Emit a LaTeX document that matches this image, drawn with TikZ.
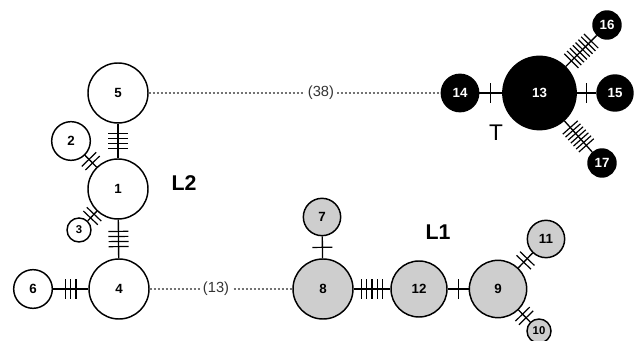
\documentclass[tikz,border=0pt]{standalone}
\usepackage{fontspec}
\setmainfont{Liberation Sans}
\usetikzlibrary{decorations.markings}
\definecolor{hapgray}{RGB}{206,206,206}
\tikzset{
  hap/.style={circle, draw, line width=1.1pt, inner sep=0pt, font=\bfseries\fontsize{10}{12}\selectfont},
  hapbig/.style={hap, minimum size=45pt},
  hapmid/.style={hap, minimum size=29pt},
  hapsmall/.style={hap, minimum size=18pt, font=\bfseries\fontsize{8.5}{10}\selectfont},
  lone/.style={fill=hapgray},
  tgroup/.style={fill=black, text=white},
  hapline/.style={line width=1pt},
  farline/.style={dash pattern=on 1.6pt off 1.4pt, black!55, line width=0.8pt},
  farlabel/.style={fill=white, text=black!80, inner sep=2pt, font=\fontsize{11}{13}\selectfont},
  grouplabel/.style={font=\bfseries\fontsize{16}{18}\selectfont},
  mut/.style 2 args={postaction={decorate, decoration={markings,
      mark=at position 0.5 with {\foreach \i in {1,...,#1}
        \draw[line width=0.9pt] ({(\i-(#1+1)/2)*#2},-7.5pt) -- ({(\i-(#1+1)/2)*#2},7.5pt);}}}},
}
\begin{document}
\begin{tikzpicture}[x=0.75pt, y=-0.75pt]
        \useasboundingbox (0,0) rectangle (642,341);

        % Haplogroup L2
        \node[hapbig] (n5) at (118,93) {5};
        \node[hapbig] (n1) at (118,189) {1};
        \node[hapbig] (n4) at (119,289) {4};
        \node[hapmid] (n2) at (71,141) {2};
        \node[hapsmall] (n3) at (79,230) {3};
        \node[hapmid] (n6) at (33,289) {6};
        \node[grouplabel] (l2) at (184,183) {L2};

        % Haplogroup L1
        \node[hapbig, lone] (n8) at (323,289) {8};
        \node[hapmid, lone, minimum size=28pt] (n7) at (322,217) {7};
        \node[hapbig, lone, minimum size=42pt] (n12) at (419,289) {12};
        \node[hapbig, lone, minimum size=43pt] (n9) at (498,289) {9};
        \node[hapmid, lone, minimum size=28pt] (n11) at (546,239) {11};
        \node[hapsmall, lone] (n10) at (539,331) {10};
        \node[grouplabel] (l1) at (438,232) {L1};

        % Haplogroup T
        \node[hap, tgroup, minimum size=55pt] (n13) at (539.5,93) {13};
        \node[hap, tgroup, minimum size=28pt] (n14) at (460,93) {14};
        \node[hap, tgroup, minimum size=27pt] (n15) at (615,93) {15};
        \node[hap, tgroup, minimum size=21pt] (n16) at (607,25) {16};
        \node[hap, tgroup, minimum size=21pt] (n17) at (602,163) {17};
        \node[font=\fontsize{17}{19}\selectfont] (t) at (496,133) {T};

        % Mutational steps
        \draw[hapline, mut={4}{3.8pt}] (n5) -- (n1);
        \draw[hapline, mut={4}{3.8pt}] (n1) -- (n4);
        \draw[hapline, mut={2}{3.8pt}] (n2) -- (n1);
        \draw[hapline, mut={2}{3.8pt}] (n3) -- (n1);
        \draw[hapline, mut={3}{4pt}] (n6) -- (n4);
        \draw[hapline, mut={1}{3.8pt}] (n7) -- (n8);
        \draw[hapline, mut={5}{4pt}] (n8) -- (n12);
        \draw[hapline, mut={1}{3.8pt}] (n12) -- (n9);
        \draw[hapline, mut={2}{3.8pt}] (n9) -- (n11);
        \draw[hapline, mut={2}{3.8pt}] (n9) -- (n10);
        \draw[hapline, mut={1}{3.8pt}] (n14) -- (n13);
        \draw[hapline, mut={1}{3.8pt}] (n13) -- (n15);
        \draw[hapline, mut={8}{3pt}] (n13) -- (n16);
        \draw[hapline, mut={7}{3pt}] (n13) -- (n17);

        % Distant links
        \draw[farline] (n5) -- node[farlabel, pos=0.59] (d38) {(38)} (n14);
        \draw[farline] (n4) -- node[farlabel, pos=0.465] (d13) {(13)} (n8);
\end{tikzpicture}
\end{document}
